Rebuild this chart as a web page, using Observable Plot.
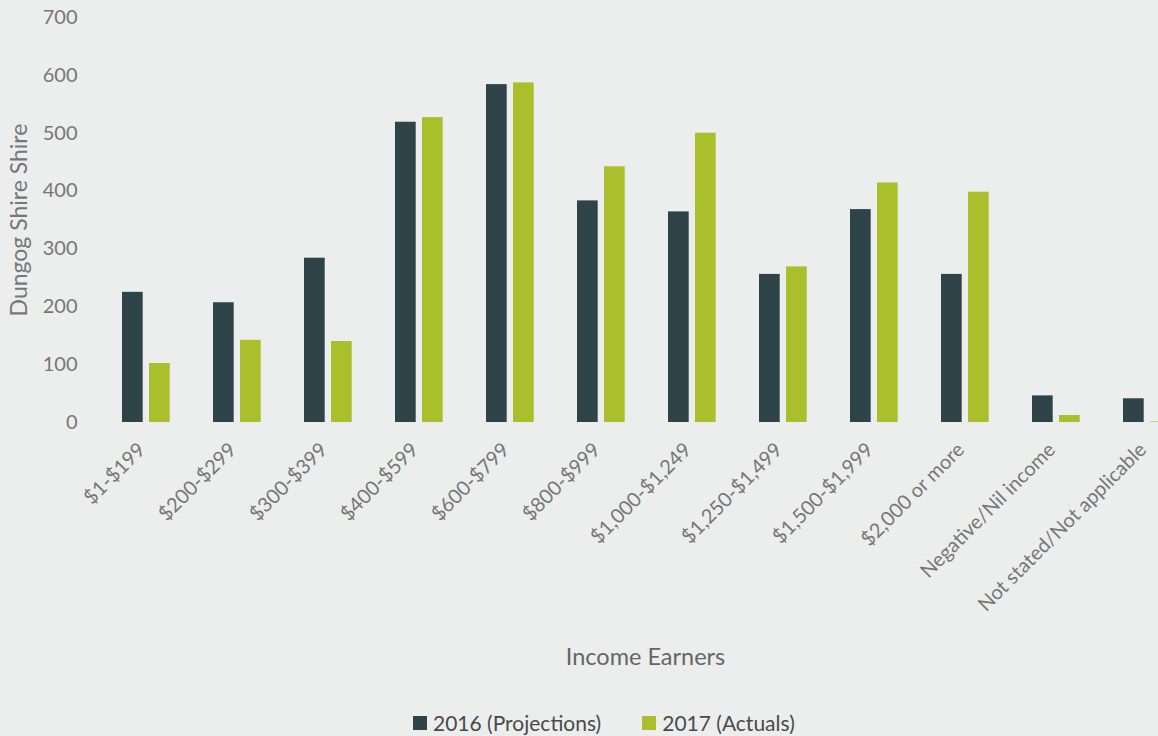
<!DOCTYPE html>
<html>
<head>
<meta charset="utf-8">
<script src="https://cdn.jsdelivr.net/npm/d3@7"></script>
<script src="https://cdn.jsdelivr.net/npm/@observablehq/plot@0.6"></script>
<style>
  html, body { margin: 0; padding: 0; background: #eceeed; overflow: hidden; }
  body { width: 1158px; height: 736px; font-family: Lato, sans-serif; }
  #chart svg { display: block; overflow: hidden; }
  #legend { position: absolute; left: 413px; top: 710px; display: flex; align-items: center;
            font-size: 21px; color: #4a4a4a; white-space: nowrap; font-family: Lato, sans-serif; }
  #legend .sw { display: inline-block; width: 14px; height: 14px; margin-right: 6px; }
  #legend .item { display: flex; align-items: center; margin-right: 41px; }
</style>
</head>
<body>
<div id="chart"></div>
<div id="legend"></div>
<script>
const categories = ["$1-$199","$200-$299","$300-$399","$400-$599","$600-$799","$800-$999",
  "$1,000-$1,249","$1,250-$1,499","$1,500-$1,999","$2,000 or more","Negative/Nil income","Not stated/Not applicable"];
const series = ["2016 (Projections)", "2017 (Actuals)"];
const values2016 = [225, 207, 284, 519, 584, 383, 364, 256, 368, 256, 46, 41];
const values2017 = [102, 142, 140, 527, 587, 442, 500, 269, 414, 398, 12, 1];
const yTicks = [0, 100, 200, 300, 400, 500, 600, 700];
const xTitle = "Income Earners";
const yTitle = "Dungog Shire Shire";
const colors = ["#2f4448", "#abbf2c"];

const d16 = categories.map((c, i) => ({cat: c, value: values2016[i]}));
const d17 = categories.map((c, i) => ({cat: c, value: values2017[i]}));

const chart = Plot.plot({
  width: 1158,
  height: 700,
  marginTop: 17,
  marginBottom: 278,
  marginLeft: 98,
  marginRight: 0,
  style: {background: "transparent", fontFamily: "Lato, sans-serif", color: "#777"},
  x: {domain: categories, range: [98, 1194], padding: 0},
  y: {domain: [0, 700], range: [422, 17]},
  marks: [
    Plot.axisY({ticks: yTicks, tickSize: 0, tickPadding: 21, fontSize: 20, label: null}),
    Plot.axisY({ticks: [], tickSize: 0, fontSize: 23, dy: 3,
      label: yTitle, labelAnchor: "center", labelArrow: "none", labelOffset: 88}),
    Plot.axisX({tickSize: 0, tickPadding: 24, dx: -4, tickRotate: -45, fontSize: 20, label: null}),
    Plot.text([xTitle], {text: d => d, frameAnchor: "bottom", dx: 17, dy: 242,
      fontSize: 23.5, fill: "#666"}),
    Plot.barY(d16, {x: "cat", y: "value", fill: colors[0], insetLeft: 22, insetRight: 48.3}),
    Plot.barY(d17, {x: "cat", y: "value", fill: colors[1], insetLeft: 49, insetRight: 21.3})
  ]
});
document.getElementById("chart").append(chart);

const legend = document.getElementById("legend");
series.forEach((s, i) => {
  const item = document.createElement("span");
  item.className = "item";
  const sw = document.createElement("span");
  sw.className = "sw";
  sw.style.background = colors[i];
  item.append(sw, document.createTextNode(s));
  legend.append(item);
});
</script>
</body>
</html>
